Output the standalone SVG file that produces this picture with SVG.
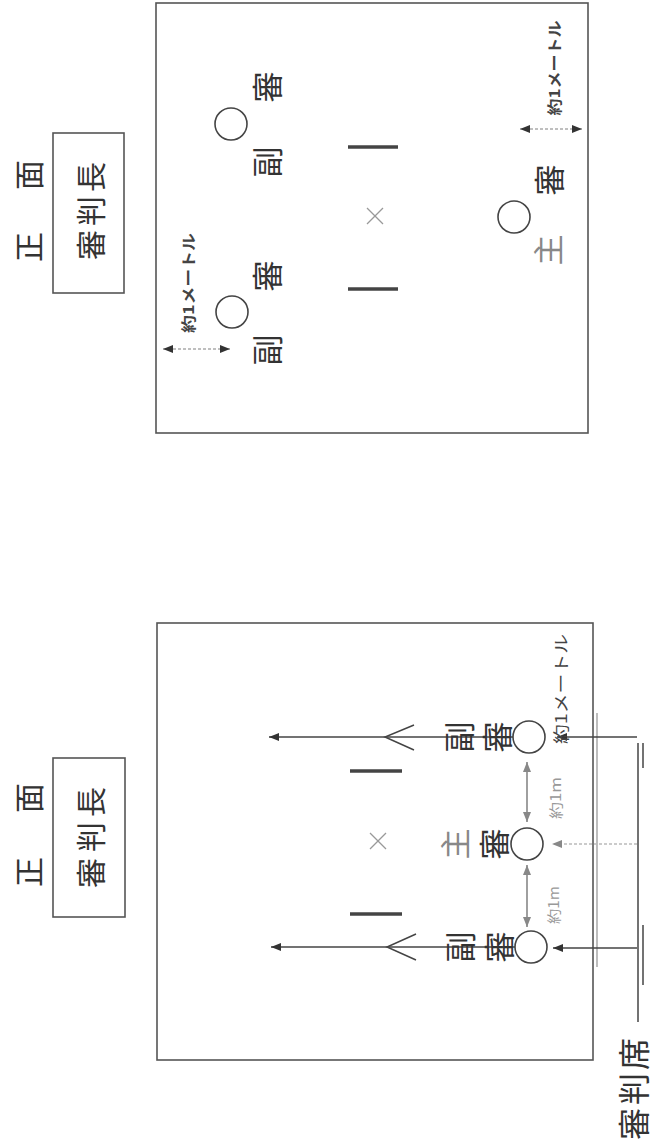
<svg xmlns="http://www.w3.org/2000/svg" width="654" height="1148" viewBox="0 0 654 1148">
<style>
.frame{fill:none;stroke:#555;stroke-width:1.6}
.ref{fill:none;stroke:#444;stroke-width:1.6}
.j{font-family:"Noto Sans CJK JP","Noto Sans CJK SC",sans-serif;fill:#333;text-anchor:middle;dominant-baseline:central}
.big{font-size:30px}
.lbl{font-size:31px}
.lite{fill:#888}
.dim{font-size:15px;font-weight:bold;fill:#444}
.dim2{font-size:16px;fill:#444}
.m{font-size:14px;fill:#999}
.seat{font-size:32px}
.bar{stroke:#444;stroke-width:3.5}
.x{stroke:#999;stroke-width:1.2}
.ln{stroke:#444;stroke-width:1.5;fill:none}
.dl{stroke:#aaa;stroke-width:1.5;stroke-dasharray:3 2}
.ga{stroke:#888;stroke-width:1.6}
.gd{stroke:#bbb;stroke-width:1.5;stroke-dasharray:3 2}
</style>
<defs>
<marker id="ah" viewBox="0 0 10 8" refX="10" refY="4" markerWidth="10" markerHeight="8" markerUnits="userSpaceOnUse" orient="auto-start-reverse"><path d="M0,0 L10,4 L0,8 Z" fill="#333"/></marker>
<marker id="ahg" viewBox="0 0 10 8" refX="10" refY="4" markerWidth="10" markerHeight="8" markerUnits="userSpaceOnUse" orient="auto-start-reverse"><path d="M0,0 L10,4 L0,8 Z" fill="#888"/></marker>
</defs>

<!-- ===== Top panel ===== -->
<g id="top-header">
<text class="j big" x="27" y="247" transform="rotate(-90 27 247)">正</text>
<text class="j big" x="27" y="175" transform="rotate(-90 27 175)">面</text>
<rect class="frame" x="53" y="133" width="71" height="160"/>
<text class="j big" x="89" y="245" transform="rotate(-90 89 245)">審</text>
<text class="j big" x="89" y="211" transform="rotate(-90 89 211)">判</text>
<text class="j big" x="89" y="177" transform="rotate(-90 89 177)">長</text>
</g>
<g id="top-court">
<rect class="frame" x="156" y="3" width="432" height="430"/>
<line class="bar" x1="348" y1="147" x2="398" y2="147"/>
<line class="bar" x1="348" y1="289" x2="398" y2="289"/>
<line class="x" x1="367" y1="208" x2="383" y2="224"/>
<line class="x" x1="383" y1="208" x2="367" y2="224"/>
</g>
<g id="top-sub1">
<circle class="ref" cx="231" cy="124" r="16"/>
<text class="j lbl" x="265" y="162" transform="rotate(-90 265 162)">副</text>
<text class="j lbl" x="265" y="87" transform="rotate(-90 265 87)">審</text>
</g>
<g id="top-sub2">
<circle class="ref" cx="232" cy="312" r="16"/>
<text class="j lbl" x="265" y="350" transform="rotate(-90 265 350)">副</text>
<text class="j lbl" x="265" y="276" transform="rotate(-90 265 276)">審</text>
</g>
<g id="top-main">
<circle class="ref" cx="514" cy="217" r="16"/>
<text class="j lbl lite" x="546" y="250" transform="rotate(-90 546 250)">主</text>
<text class="j lbl" x="547" y="180" transform="rotate(-90 547 180)">審</text>
</g>
<g id="top-dims">
<text class="j dim" x="553" y="68" transform="rotate(-90 553 68)" textLength="95" lengthAdjust="spacingAndGlyphs">約1メートル</text>
<text class="j dim" x="187" y="283" transform="rotate(-90 187 283)" textLength="100" lengthAdjust="spacingAndGlyphs">約1メートル</text>
</g>

<!-- ===== Bottom panel ===== -->
<g id="bottom-header">
<text class="j big" x="27" y="872" transform="rotate(-90 27 872)">正</text>
<text class="j big" x="27" y="798" transform="rotate(-90 27 798)">面</text>
<rect class="frame" x="53" y="758" width="72" height="159"/>
<text class="j big" x="89" y="873" transform="rotate(-90 89 873)">審</text>
<text class="j big" x="89" y="837" transform="rotate(-90 89 837)">判</text>
<text class="j big" x="89" y="802" transform="rotate(-90 89 802)">長</text>
</g>
<g id="bottom-court">
<rect class="frame" x="157" y="623" width="436" height="437"/>
<line stroke="#888" stroke-width="1.1" x1="597" y1="713" x2="597" y2="967"/>
<line class="bar" x1="350" y1="771" x2="402" y2="771"/>
<line class="bar" x1="350" y1="914" x2="402" y2="914"/>
<line class="x" x1="370" y1="833" x2="386" y2="849"/>
<line class="x" x1="386" y1="833" x2="370" y2="849"/>
</g>

<g id="connectors">
<line class="dl" x1="520" y1="129" x2="582" y2="129" marker-start="url(#ah)" marker-end="url(#ah)"/>
<line class="dl" x1="163" y1="349" x2="230" y2="349" marker-start="url(#ah)" marker-end="url(#ah)"/>
<line class="ln" x1="513" y1="737" x2="269" y2="737" marker-end="url(#ah)"/>
<polyline class="ln" points="414,725 385,737 414,750"/>
<line class="ln" x1="515" y1="947" x2="271" y2="947" marker-end="url(#ah)"/>
<polyline class="ln" points="416,934 387,947 416,960"/>
<line class="ga" x1="527" y1="762" x2="527" y2="822" marker-start="url(#ahg)" marker-end="url(#ahg)"/>
<line class="ga" x1="527" y1="865" x2="527" y2="927" marker-start="url(#ahg)" marker-end="url(#ahg)"/>
<line class="ln" x1="637" y1="737" x2="557" y2="737" marker-end="url(#ah)"/>
<line class="gd" x1="637" y1="844" x2="552" y2="844" marker-end="url(#ahg)"/>
<line class="ln" x1="637" y1="948" x2="553" y2="948" marker-end="url(#ah)"/>
<line class="ln" x1="638" y1="743" x2="638" y2="1022"/>
<line class="ln" x1="643" y1="743" x2="643" y2="768"/>
<line class="ln" x1="643" y1="925" x2="643" y2="985"/>
</g>

<g id="bottom-sub1">
<circle class="ref" cx="529" cy="737" r="16" fill="#fff"/>
<text class="j lbl" x="457" y="737" transform="rotate(-90 457 737)">副</text>
<text class="j lbl" x="495" y="737" transform="rotate(-90 495 737)">審</text>
</g>
<g id="bottom-main">
<circle class="ref" cx="527" cy="844" r="16" fill="#fff"/>
<text class="j lbl lite" x="453" y="844" transform="rotate(-90 453 844)">主</text>
<text class="j lbl" x="492" y="844" transform="rotate(-90 492 844)">審</text>
</g>
<g id="bottom-sub2">
<circle class="ref" cx="531" cy="947" r="16" fill="#fff"/>
<text class="j lbl" x="458" y="947" transform="rotate(-90 458 947)">副</text>
<text class="j lbl" x="497" y="947" transform="rotate(-90 497 947)">審</text>
</g>
<g id="bottom-dims">
<text class="j dim2" x="560" y="689" transform="rotate(-90 560 689)" textLength="110" lengthAdjust="spacingAndGlyphs">約1メートル</text>
<text class="j m" x="555" y="798" transform="rotate(-90 555 798)" textLength="42" lengthAdjust="spacingAndGlyphs">約1m</text>
<text class="j m" x="553" y="905" transform="rotate(-90 553 905)" textLength="38" lengthAdjust="spacingAndGlyphs">約1m</text>
</g>
<g id="judges-table">
<text class="j seat" x="632" y="1054" transform="rotate(-90 632 1054)">席</text>
<text class="j seat" x="632" y="1089" transform="rotate(-90 632 1089)">判</text>
<text class="j seat" x="632" y="1124" transform="rotate(-90 632 1124)">審</text>
</g>
</svg>
